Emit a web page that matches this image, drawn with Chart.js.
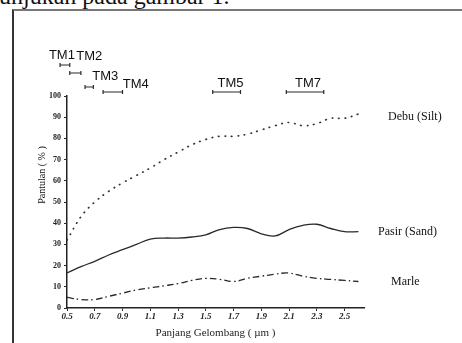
<!DOCTYPE html>
<html>
<head>
<meta charset="utf-8">
<script src="https://cdn.jsdelivr.net/npm/chart.js@4"></script>
<style>
  html, body { margin: 0; padding: 0; background: #fff; }
  #wrap { position: relative; width: 462px; height: 343px; overflow: hidden; }
  #caption { position: absolute; left: -1px; top: -17px; font: 24px "Liberation Serif", serif; color: #111; white-space: nowrap; }
  #frame { position: absolute; left: 12px; top: 9px; right: -4px; bottom: -4px; border-top: 2px solid #777; border-left: 2px solid #333; }
  canvas { position: absolute; left: 0; top: 0; }
</style>
</head>
<body>
<div id="wrap">
  <div id="caption">unjukan pada gambar 1.</div>
  <div id="frame"></div>
  <canvas id="spektrumChart" width="462" height="343"></canvas>
</div>
<script>
// panjang gelombang (um) dan pantulan (%) tiap material
const waveX = [0.5, 0.6, 0.7, 0.8, 0.9, 1.0, 1.1, 1.2, 1.3, 1.4, 1.5, 1.6, 1.7, 1.8, 1.9, 2.0, 2.1, 2.2, 2.3, 2.4, 2.5, 2.6];
const debu  = [32, 43, 50, 55, 59, 62.5, 66, 70, 73.5, 77, 79.5, 81, 81, 82, 84, 86, 87.5, 86, 87, 89.5, 89.5, 91.5];
const pasir = [16.5, 19.5, 22, 25, 27.5, 30, 32.5, 33, 33, 33.5, 34.5, 37, 38, 37.5, 35, 34, 37, 39, 39.5, 37.5, 36, 36];
const marle = [5, 4, 4, 5.5, 7, 8.5, 9.5, 10.5, 11.5, 13, 14, 13.5, 12.5, 14, 15, 16, 16.5, 15, 14, 13.5, 13, 12.5];
const seriesNames = ['Debu (Silt)', 'Pasir (Sand)', 'Marle'];

const xTicks = [0.5, 0.7, 0.9, 1.1, 1.3, 1.5, 1.7, 1.9, 2.1, 2.3, 2.5];

// saluran Landsat TM
const bandNames = ['TM1', 'TM2', 'TM3', 'TM4', 'TM5', 'TM7'];
const bandStart = [0.45, 0.52, 0.63, 0.76, 1.55, 2.08];
const bandEnd   = [0.52, 0.60, 0.69, 0.90, 1.75, 2.35];

// posisi gambar (px), bukan data
const bandBarY = [65, 73, 87, 92, 92, 92];
const bandLabelDx = [-3, 14, 16, 23, 4, 3];
const bandLabelDy = [-10, -17, -11, -8, -9, -9];
const nameDx = [24, 14, 27];
const nameDy = [3, 0, 0];

const ink = '#2a2a2a';
const toXY = arr => arr.map((v, i) => ({ x: waveX[i], y: v }));

const labelPlugin = {
    id: 'labelPlugin',
    afterDraw(chart) {
        const ctx = chart.ctx;
        const xs = chart.scales.x, ys = chart.scales.y;
        ctx.save();
        ctx.strokeStyle = ink;
        ctx.fillStyle = '#111';
        ctx.lineWidth = 1.2;

        // batang saluran TM
        ctx.font = '13px "Liberation Sans", sans-serif';
        ctx.textAlign = 'center';
        ctx.textBaseline = 'middle';
        bandNames.forEach((name, i) => {
            const x0 = xs.getPixelForValue(bandStart[i]);
            const x1 = xs.getPixelForValue(bandEnd[i]);
            const y = bandBarY[i];
            ctx.beginPath();
            ctx.moveTo(x0, y); ctx.lineTo(x1, y);
            ctx.moveTo(x0, y - 2); ctx.lineTo(x0, y + 2);
            ctx.moveTo(x1, y - 2); ctx.lineTo(x1, y + 2);
            ctx.stroke();
            ctx.fillText(name, (x0 + x1) / 2 + bandLabelDx[i], y + bandLabelDy[i]);
        });

        // nama material di kanan
        ctx.font = '12px "Liberation Serif", serif';
        ctx.textAlign = 'left';
        [debu, pasir, marle].forEach((arr, i) => {
            const y = ys.getPixelForValue(arr[arr.length - 1]);
            ctx.fillText(seriesNames[i], chart.chartArea.right + nameDx[i], y + nameDy[i]);
        });

        // judul sumbu y
        ctx.font = '10px "Liberation Serif", serif';
        ctx.textAlign = 'center';
        ctx.translate(42, 175);
        ctx.rotate(-Math.PI / 2);
        ctx.fillText('Pantulan ( % )', 0, 0);
        ctx.restore();
    }
};

const ctx = document.getElementById('spektrumChart').getContext('2d');
new Chart(ctx, {
    type: 'line',
    data: {
        datasets: [{
            label: seriesNames[0],
            data: toXY(debu),
            borderColor: '#333',
            borderWidth: 1.7,
            borderDash: [0.5, 6],
            borderCapStyle: 'round'
        }, {
            label: seriesNames[1],
            data: toXY(pasir),
            borderColor: ink,
            borderWidth: 1.3
        }, {
            label: seriesNames[2],
            data: toXY(marle),
            borderColor: ink,
            borderWidth: 1.3,
            borderDash: [7, 3, 1.5, 3]
        }]
    },
    options: {
        responsive: false,
        animation: false,
        events: [],
        layout: { padding: { left: 30, right: 98, top: 96, bottom: 0 } },
        elements: {
            point: { radius: 0 },
            line: { tension: 0.4, fill: false }
        },
        plugins: {
            legend: { display: false },
            tooltip: { enabled: false }
        },
        scales: {
            x: {
                type: 'linear',
                min: 0.5,
                max: 2.64,
                afterBuildTicks: s => { s.ticks = xTicks.map(v => ({ value: v })); },
                afterFit: s => { s.height = 35; },
                grid: { drawOnChartArea: false, tickLength: 3, color: ink },
                border: { color: '#222', width: 1.5 },
                ticks: {
                    padding: 0,
                    color: '#222',
                    maxRotation: 0,
                    font: { family: 'Liberation Serif', size: 9, style: 'italic', weight: 'bold' },
                    callback: v => v.toFixed(1)
                },
                title: {
                    display: true,
                    text: 'Panjang Gelombang ( µm )',
                    color: '#222',
                    padding: { top: 0, bottom: 3 },
                    font: { family: 'Liberation Serif', size: 11 }
                }
            },
            y: {
                min: 0,
                max: 100,
                afterFit: s => { s.width = 37; },
                grid: { drawOnChartArea: false, tickLength: 3, color: ink },
                border: { color: '#222', width: 1.5 },
                ticks: {
                    stepSize: 10,
                    padding: 3,
                    color: '#222',
                    font: { family: 'Liberation Serif', size: 8, weight: 'bold' }
                }
            }
        }
    },
    plugins: [labelPlugin]
});
</script>
</body>
</html>
